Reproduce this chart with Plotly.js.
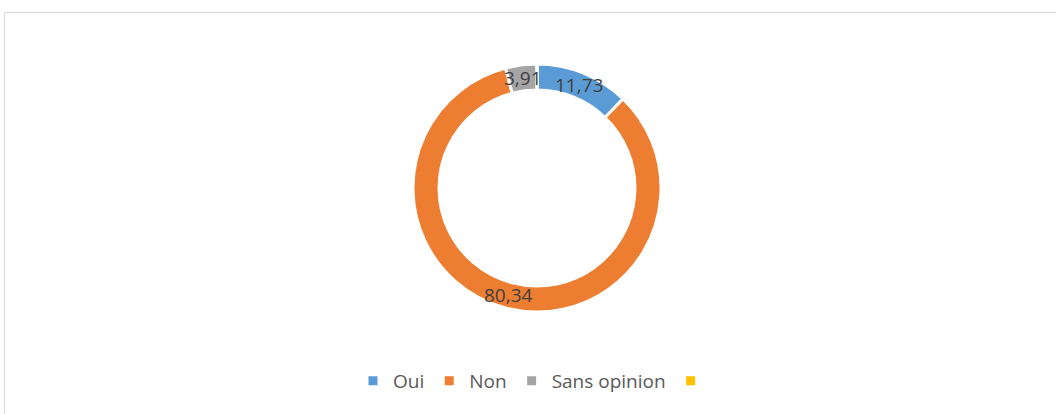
<!DOCTYPE html>
<html><head><meta charset="utf-8">
<script src="https://cdn.plot.ly/plotly-3.0.1.min.js"></script>
<style>body{margin:0;background:#fff}#c{width:1056px;height:414px}</style>
</head><body><div id="c"></div>
<script>
const categories = ['Oui', 'Non', 'Sans opinion', ' '];
const values = [11.73, 80.34, 3.91, 0];
const labelTexts = ['11,73', '80,34', '3,91', ''];
const colors = ['#5B9BD5', '#ED7D31', '#A5A5A5', '#FFC000'];

const W = 1056, H = 414;
const m = {l: 20, r: 2, t: 64, b: 102};
const pw = W - m.l - m.r, ph = H - m.t - m.b;
const R = Math.min(pw, ph) / 2;
const hole = 0.79;
const rMid = R * (1 + hole) / 2;

// data-label annotations placed at mid-angle of each slice on the ring
const total = values.reduce((a, b) => a + b, 0);
let cum = 0;
const annotations = [];
values.forEach((v, i) => {
  const mid = (cum + v / 2) / total * 2 * Math.PI;
  cum += v;
  if (!v) return;
  annotations.push({
    xref: 'paper', yref: 'paper', x: 0.5, y: 0.5,
    xshift: rMid * Math.sin(mid), yshift: rMid * Math.cos(mid),
    text: labelTexts[i], showarrow: false,
    font: {family: 'Open Sans, sans-serif', size: 19, color: '#404040'}
  });
});

const px2x = px => (px - m.l) / pw;
const px2y = py => (H - m.b - py) / ph;

Plotly.newPlot('c', [{
  type: 'pie', labels: categories, values: values, hole: hole,
  sort: false, direction: 'clockwise', rotation: 0,
  marker: {colors: colors, line: {color: '#ffffff', width: 3}},
  textinfo: 'none', hoverinfo: 'label+value',
  domain: {x: [0, 1], y: [0, 1]}
}], {
  width: W, height: H, margin: m,
  paper_bgcolor: '#ffffff', plot_bgcolor: '#ffffff',
  showlegend: true,
  legend: {orientation: 'h', x: 0.5, xanchor: 'center', y: px2y(381), yanchor: 'middle',
    font: {family: 'Open Sans, sans-serif', size: 19, color: '#595959'}, itemwidth: 30,
    traceorder: 'normal'},
  annotations: annotations,
  shapes: [{type: 'rect', xref: 'paper', yref: 'paper',
    x0: px2x(4.5), x1: px2x(1060), y0: px2y(12.5), y1: px2y(420),
    line: {color: '#D9D9D9', width: 1}, fillcolor: 'rgba(0,0,0,0)', layer: 'below'}]
}, {displayModeBar: false, staticPlot: true});
</script></body></html>
